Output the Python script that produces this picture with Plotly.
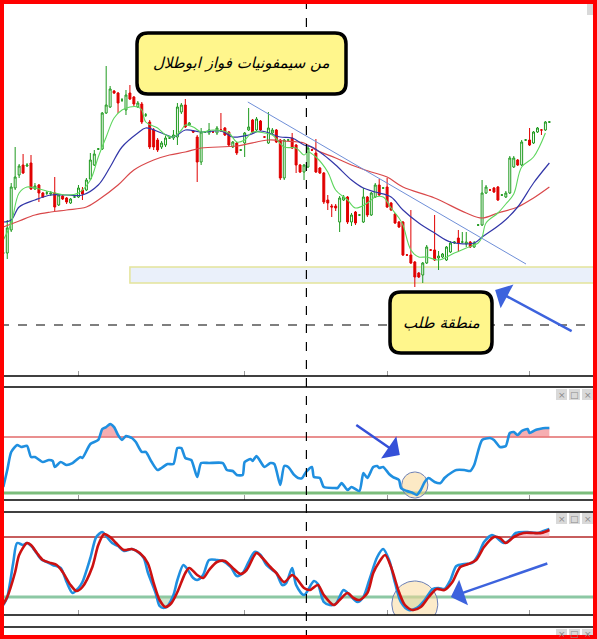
import numpy as np
import plotly.graph_objects as go

W, H = 597, 639

# ---------------- candle data (index = bar number) ----------------
open_ = [123,123,146,188,201,211,210,213,187,191, 183,183,182,183,171,180,178,173,179,179,
         186,186,197,211,227,227,263,269,285,283, 276,266,283,279,269,272,261,254,246,236,
         229,231,238,238,239,264,271,251,245,239, 214,244,243,244,243,246,248,244,229,233,
         226,233,246,256,246,255,239,233,243,246, 236,198,236,238,231,211,204,209,226,223,
         208,203,176,170,170,154,176,179,154,164, 161,154,179,161,179,191,188,189,173,162,
         154,154,121,121,114,103,101,113,126,126, 118,119,116,124,133,138,134,132,134,129,
         151,151,183,186,188,189,181,179,183,209, 216,211,236,236,233,244,246,246,254]
high = [124,156,193,229,212,222,213,221,193,192, 184,185,185,199,182,181,179,178,180,191,
        189,198,223,226,228,264,310,290,286,284, 278,286,291,280,275,274,263,256,248,238,
        235,240,239,246,273,273,277,254,246,241, 248,245,253,245,250,263,249,245,235,234,
        227,244,268,257,259,256,240,264,248,247, 237,237,237,243,232,212,212,230,227,237,
        209,204,181,172,172,180,181,180,163,165, 162,188,180,184,193,197,189,198,174,163,
        155,155,122,166,115,104,114,131,127,161, 125,123,130,135,135,146,144,144,135,135,
        152,196,191,187,189,190,182,185,220,220, 217,236,237,248,245,249,247,255,255]
low = [122,117,144,186,198,202,209,186,186,174, 178,181,180,165,170,176,172,172,178,178,
       176,185,196,210,226,226,262,268,282,263, 274,261,276,270,268,252,259,227,226,224,
       227,229,237,236,231,262,248,250,243,194, 211,243,241,243,241,244,240,229,228,221,
       225,219,245,243,245,245,238,232,242,233, 196,196,235,227,203,203,196,208,225,203,
       202,172,166,159,165,144,175,152,150,151, 160,153,159,160,178,180,187,168,165,152,
       148,120,120,112,89,98,93,112,125,115, 106,118,115,123,132,124,133,129,128,128,
       150,150,182,185,183,175,180,178,182,208, 210,210,235,230,232,243,241,245,253]
close = [123,148,189,199,210,203,211,187,190,183, 179,183,183,169,181,177,174,177,179,188,
         182,196,216,222,227,263,271,287,283,273, 276,281,277,272,273,254,261,229,229,226,
         233,238,238,241,269,271,249,253,244,214, 244,244,246,244,248,246,241,231,234,223,
         226,243,249,244,257,246,239,248,246,234, 198,236,236,228,211,204,211,228,226,204,
         203,174,173,169,168,178,179,154,161,153, 161,179,161,183,191,181,188,169,166,153,
         149,121,121,113,99,99,113,129,126,116, 120,122,129,133,134,133,134,134,129,133,
         151,183,189,186,184,176,181,183,218,218, 211,234,236,231,244,248,246,254,254]
bars = list(range(len(open_)))

# moving averages
ma_fast_idx = [0,2,4,6,8,12,16,19,22,24,26,28,30,32,34,35,36,39,41,43,45,46,48,50,53,57,59,61,63,66,68,71,74,76,77,79,82,84,87,89,92,94,96,98,100,101,103,105,107,110,114,117,120,121,122,125,127,129,131,134,137]
ma_fast = [136,153,183,189,188,184,181,183,196,219,239,258,266,269,269,266,254,248,241,239,246,251,249,244,246,243,234,236,244,243,241,229,228,221,224,219,204,186,176,168,173,179,179,168,158,151,126,119,119,116,123,128,133,139,153,163,172,182,209,219,243]
ma_mid_idx = [0,2,4,8,12,16,20,24,27,30,34,36,40,43,46,50,55,58,62,65,70,73,76,78,81,84,88,91,94,98,101,105,109,113,119,121,126,130,134,138]
ma_mid = [154,156,169,176,181,181,181,191,209,229,243,248,243,239,246,244,245,239,241,245,239,238,231,229,221,211,196,188,184,179,166,153,143,134,133,139,153,169,193,213]
ma_slow_idx = [0,4,8,12,16,21,24,29,33,38,42,46,50,59,67,71,76,79,84,88,93,97,101,109,117,121,125,130,134,138]
ma_slow = [149,155,161,164,166,169,176,191,206,216,221,224,228,230,236,235,233,226,218,211,204,199,189,178,163,158,163,169,178,189]

trend_idx = [61.8, 132.1]
trend_val = [274, 112]
zone_start, zone_low, zone_high = 32, 93, 109
level_main = 51
cursor_idx = 76.6

# RSI
rsi_idx = [0,1,2,3.5,4.5,6,7,8,10,11.5,12.5,13,14.5,16,17.5,19.5,20,22,24,25,26,27,28,29,30,31,32.5,33.5,35,36,37.5,39,41.5,43,44,45,46,47.5,49,50,52,55.5,56.5,58,59,60.5,61,62.5,63,64,66,67.5,68.5,70,71,72,73.5,74.5,75.5,76.5,78,78.5,80,81,83.5,84.5,85.5,87,88,90,91,92,93.5,94.5,95,96,97.5,98.5,100,100.5,102,103.5,104.5,105.5,106.5,107.5,109,110.5,111.5,113.5,114.5,116.5,118,119,121,123,124,125.5,127,128,129,130,131,132.5,133,134.5,135.5,137,138]
rsi = [34.3,46.4,59.3,64.3,62.9,63.6,55.7,55.7,52.1,53.6,52.9,48.6,52.1,50.0,51.4,55.7,55.0,65.0,67.9,75.7,77.1,79.3,77.1,71.4,67.9,70.7,69.3,66.4,59.3,59.3,52.1,46.4,50.7,50.7,62.1,62.1,55.0,53.6,41.4,51.4,51.4,51.4,46.4,45.7,42.9,42.9,52.1,54.3,52.9,56.4,48.6,51.4,50.7,35.7,49.3,48.6,42.9,40.7,40.7,45.0,48.6,41.4,40.7,34.3,33.6,33.6,37.1,32.1,34.3,31.4,44.3,40.7,48.6,49.3,47.9,48.6,43.6,41.4,39.3,33.6,31.4,30.0,28.6,32.1,37.9,40.7,37.9,37.1,40.7,45.0,46.4,46.4,45.7,50.0,67.9,69.3,67.9,62.9,63.6,72.9,73.6,71.4,74.3,75.7,72.9,75.0,75.7,76.4,76.4]
rsi_hi, rsi_lo = 70, 30

# Stochastic
stk_idx = [0,1,2.5,3.5,5,6,7.5,9.5,11,12.5,14.5,16,17.5,19,20,22,23.5,25,26,27.5,29,30.5,32.5,34,35.5,36.5,38.5,39.5,40.5,41.5,43,44,45.5,46.5,48,49,50.5,52,54,55.5,57.5,59,60.5,62,63.5,65,66.5,68,69,70.5,71.5,73,74,76,78.5,79.5,81,82.5,84,86,87.5,89.5,91,92.5,94.5,96,97.5,99,100.5,102.5,104.5,106.5,108.5,110,111.5,113,114.5,116.5,118.5,120,121.5,123.5,124.5,126.5,128,129.5,132.5,135,136.5,138]
stk = [12,20,54,74,72,74,69,58,55,52,49,35,24,29,35,59,80,85,81,74,71,66,68,65,59,45,24,11,9,11,22,37,52,48,39,37,42,57,57,56,50,41,44,55,65,62,52,47,44,32,34,49,32,22,36,33,15,12,13,27,22,15,20,37,60,68,57,34,15,7,9,17,28,29,28,37,51,53,54,62,75,82,80,74,77,84,85,84,86,88]
std_idx = [0,1,3,4,6,7,8.5,10,12,13.5,15,17,18.5,20,22.5,24,25.5,27,28.5,30.5,32.5,34.5,36.5,38,39.5,41,42.5,44,46,47,49,50.5,52,54,56,58,60,61.5,64,65.5,67.5,69,71,73,74,76,77.5,79.5,81,83.5,85,87,88.5,90,92,93.5,95,96.5,98,100,101.5,103.5,105.5,107.5,109.5,111.5,113.5,115.5,117.5,119.5,121.5,124,125.5,127,129,131.5,134,136,138]
std = [13,20,45,62,74,72,64,57,54,52,45,32,26,30,50,72,83,80,74,67,68,64,54,34,17,10,14,25,44,49,42,39,47,55,56,49,43,47,64,59,50,44,35,42,39,29,27,32,22,12,17,24,19,17,24,44,55,62,50,25,12,7,10,20,28,27,35,50,53,57,70,80,79,74,80,84,84,84,87]
st_hi, st_lo = 80, 20

time_ticks = [19, 61, 97, 133]

# ---------------- figure ----------------
fig = go.Figure()

def px(x):
    return x / W

def py(y):
    return 1 - y / H

# MA lines
fig.add_trace(go.Scatter(x=ma_slow_idx, y=ma_slow, mode='lines', line=dict(color='#D9484A', width=1.2, shape='spline'), xaxis='x', yaxis='y'))
fig.add_trace(go.Scatter(x=ma_mid_idx, y=ma_mid, mode='lines', line=dict(color='#3236A8', width=1.2, shape='spline'), xaxis='x', yaxis='y'))
fig.add_trace(go.Scatter(x=ma_fast_idx, y=ma_fast, mode='lines', line=dict(color='#5ED65E', width=1.1, shape='spline'), xaxis='x', yaxis='y'))
fig.add_trace(go.Scatter(x=trend_idx, y=trend_val, mode='lines', line=dict(color='#6F8FD8', width=1), xaxis='x', yaxis='y'))

fig.add_trace(go.Candlestick(
    x=bars, open=open_, high=high, low=low, close=close,
    increasing=dict(line=dict(color='#1F9A1F', width=1), fillcolor='white'),
    decreasing=dict(line=dict(color='#E00000', width=1), fillcolor='#E00000'),
    whiskerwidth=0, xaxis='x', yaxis='y'))

# RSI panel
rsi_arr = np.array(rsi, dtype=float)
fig.add_trace(go.Scatter(x=rsi_idx, y=[rsi_hi] * len(rsi_idx), mode='lines', line=dict(width=0), xaxis='x2', yaxis='y2'))
fig.add_trace(go.Scatter(x=rsi_idx, y=np.maximum(rsi_arr, rsi_hi), mode='lines', line=dict(width=0), fill='tonexty',
                         fillcolor='rgba(240,120,125,0.6)', xaxis='x2', yaxis='y2'))

# highlight circles (drawn as closed paths so they are clipped to their panel)
theta = np.linspace(0, 2 * np.pi, 80)
def ellipse(cx, cy, rx, ry):
    return cx + rx * np.cos(theta), cy + ry * np.sin(theta)

ex, ey = ellipse(104, 35.7, 3.3, 9.3)
fig.add_trace(go.Scatter(x=ex, y=ey, mode='lines', fill='toself', fillcolor='rgba(250,215,150,0.55)',
                         line=dict(color='#6A7EB5', width=1), xaxis='x2', yaxis='y2'))
fig.add_trace(go.Scatter(x=rsi_idx, y=rsi, mode='lines', line=dict(color='#1F8FE0', width=2.6, shape='spline', smoothing=0.6),
                         xaxis='x2', yaxis='y2'))

# Stochastic panel
stk_arr = np.array(stk, dtype=float)
fig.add_trace(go.Scatter(x=stk_idx, y=[st_hi] * len(stk_idx), mode='lines', line=dict(width=0), xaxis='x3', yaxis='y3'))
fig.add_trace(go.Scatter(x=stk_idx, y=np.maximum(stk_arr, st_hi), mode='lines', line=dict(width=0), fill='tonexty',
                         fillcolor='rgba(245,150,160,0.55)', xaxis='x3', yaxis='y3'))
fig.add_trace(go.Scatter(x=stk_idx, y=[st_lo] * len(stk_idx), mode='lines', line=dict(width=0), xaxis='x3', yaxis='y3'))
fig.add_trace(go.Scatter(x=stk_idx, y=np.minimum(stk_arr, st_lo), mode='lines', line=dict(width=0), fill='tonexty',
                         fillcolor='rgba(150,200,150,0.45)', xaxis='x3', yaxis='y3'))
ex, ey = ellipse(104, 13, 5.8, 23)
fig.add_trace(go.Scatter(x=ex, y=ey, mode='lines', fill='toself', fillcolor='rgba(250,215,150,0.5)',
                         line=dict(color='#6A7EB5', width=1), xaxis='x3', yaxis='y3'))
fig.add_trace(go.Scatter(x=stk_idx, y=stk, mode='lines', line=dict(color='#1F8FE0', width=2.6, shape='spline', smoothing=0.8),
                         xaxis='x3', yaxis='y3'))
fig.add_trace(go.Scatter(x=std_idx, y=std, mode='lines', line=dict(color='#CC1111', width=2.6, shape='spline', smoothing=0.8),
                         xaxis='x3', yaxis='y3'))

xr = [-0.834, 150.04]
xcommon = dict(range=xr, showgrid=False, zeroline=False, showline=False, showticklabels=False,
               ticks='inside', tickmode='array', tickvals=time_ticks, ticklen=5, tickcolor='#9A9A9A', tickwidth=1)
ycommon = dict(showgrid=False, zeroline=False, showline=False, showticklabels=False, ticks='')

fig.update_layout(
    width=W, height=H, margin=dict(l=0, r=0, t=0, b=0, pad=0),
    paper_bgcolor='white', plot_bgcolor='white', showlegend=False, hovermode=False,
    xaxis=dict(xcommon, domain=[0, 1], anchor='y', rangeslider=dict(visible=False)),
    xaxis2=dict(xcommon, domain=[0, 1], anchor='y2', matches='x'),
    xaxis3=dict(xcommon, domain=[0, 1], anchor='y3', matches='x'),
    yaxis=dict(ycommon, domain=[py(376), py(3)], range=[0, 373]),
    yaxis2=dict(ycommon, domain=[py(500), py(387)], range=[25, 105.714]),
    yaxis3=dict(ycommon, domain=[py(615), py(512)], range=[2, 105]),
)

shapes = []
# demand zone
shapes.append(dict(type='rect', xref='x', yref='y', x0=zone_start, x1=xr[1], y0=zone_low, y1=zone_high,
                   fillcolor='#EAF0FA', line=dict(color='#E4E49A', width=1.5), layer='below'))
# level lines
shapes.append(dict(type='line', xref='paper', yref='y2', x0=0, x1=1, y0=rsi_hi, y1=rsi_hi, line=dict(color='#E26A6A', width=1.3), layer='below'))
shapes.append(dict(type='line', xref='paper', yref='y2', x0=0, x1=1, y0=rsi_lo, y1=rsi_lo, line=dict(color='#7CBD7C', width=3), layer='below'))
shapes.append(dict(type='line', xref='paper', yref='y3', x0=0, x1=1, y0=st_hi, y1=st_hi, line=dict(color='#B42828', width=1.3), layer='below'))
shapes.append(dict(type='line', xref='paper', yref='y3', x0=0, x1=1, y0=st_lo, y1=st_lo, line=dict(color='#8CC8A4', width=3), layer='below'))
# horizontal dashed level in main
shapes.append(dict(type='line', xref='paper', yref='y', x0=0, x1=px(592), y0=level_main, y1=level_main,
                   line=dict(color='black', width=1.2, dash='dash')))
# panel separators
for yy in [376, 387, 500, 512, 615, 627]:
    shapes.append(dict(type='line', xref='paper', yref='paper', x0=0, x1=1, y0=py(yy), y1=py(yy),
                       line=dict(color='black', width=1.5)))
# vertical cursor
xc = (cursor_idx - xr[0]) / (xr[1] - xr[0])
shapes.append(dict(type='line', xref='paper', yref='paper', x0=xc, x1=xc, y0=0, y1=1,
                   line=dict(color='black', width=1.2, dash='dash')))


def rrect(x0, y0, x1, y1, r):
    pts = [('M', x0 + r, y0), ('L', x1 - r, y0), ('Q', x1, y0, x1, y0 + r), ('L', x1, y1 - r),
           ('Q', x1, y1, x1 - r, y1), ('L', x0 + r, y1), ('Q', x0, y1, x0, y1 - r), ('L', x0, y0 + r),
           ('Q', x0, y0, x0 + r, y0)]
    s = ''
    for p in pts:
        s += p[0]
        coords = p[1:]
        for i in range(0, len(coords), 2):
            s += ' %.5f,%.5f ' % (px(coords[i]), py(coords[i + 1]))
    return s + 'Z'

for (bx0, by0, bx1, by1) in [(137, 33, 346, 94), (390, 292, 492, 353)]:
    shapes.append(dict(type='path', xref='paper', yref='paper', path=rrect(bx0, by0, bx1, by1, 11),
                       fillcolor='#FFF68C', line=dict(color='black', width=3.5)))

# panel buttons
for by in [389, 513, 629]:
    for bx in [556, 569, 582]:
        shapes.append(dict(type='rect', xref='paper', yref='paper', x0=px(bx), x1=px(bx + 11), y0=py(by + 11), y1=py(by),
                           fillcolor='#D9D9D9', line=dict(width=0)))
shapes.append(dict(type='rect', xref='paper', yref='paper', x0=px(587), x1=px(596), y0=py(15), y1=py(4),
                   fillcolor='#D9D9D9', line=dict(width=0)))
# red frame
shapes.append(dict(type='rect', xref='paper', yref='paper', x0=px(2), x1=px(595), y0=py(637), y1=py(2),
                   line=dict(color='#FF0000', width=4), fillcolor='rgba(0,0,0,0)'))

annotations = []
annotations.append(dict(xref='paper', yref='paper', x=px(241.5), y=py(63.5), xanchor='center', yanchor='middle',
                        text='<i>من سيمفونيات فواز ابوطلال</i>',
                        showarrow=False, font=dict(family='DejaVu Sans', size=15, color='black')))
annotations.append(dict(xref='paper', yref='paper', x=px(441), y=py(322.5), xanchor='center', yanchor='middle',
                        text='<i>منطقة طلب</i>',
                        showarrow=False, font=dict(family='DejaVu Sans', size=15, color='black')))
# arrows
annotations.append(dict(xref='x', yref='y', x=124.3, y=86, ax=78, ay=42, text='', showarrow=True,
                        arrowhead=1, arrowsize=1.8, arrowwidth=2.5, arrowcolor='#3D63DD'))
annotations.append(dict(xref='x2', yref='y2', x=100.2, y=57.1, ax=-45, ay=-31, text='', showarrow=True,
                        arrowhead=1, arrowsize=1.8, arrowwidth=2.5, arrowcolor='#3550D8'))
annotations.append(dict(xref='x3', yref='y3', x=113.1, y=20, ax=98, ay=-34, text='', showarrow=True,
                        arrowhead=1, arrowsize=1.8, arrowwidth=2.5, arrowcolor='#3D63DD'))
for by in [389, 513, 628]:
    for bx, sym in [(556, '×'), (569, '□'), (582, '×')]:
        annotations.append(dict(xref='paper', yref='paper', x=px(bx + 5.5), y=py(by + 5.5), xanchor='center', yanchor='middle',
                                text=sym, showarrow=False, font=dict(family='DejaVu Sans', size=9, color='#8A8A8A')))

fig.update_layout(shapes=shapes, annotations=annotations)
fig.write_html('out.html', config={'displayModeBar': False},
               post_script="document.body.style.margin='0px';document.body.style.overflow='hidden';")
